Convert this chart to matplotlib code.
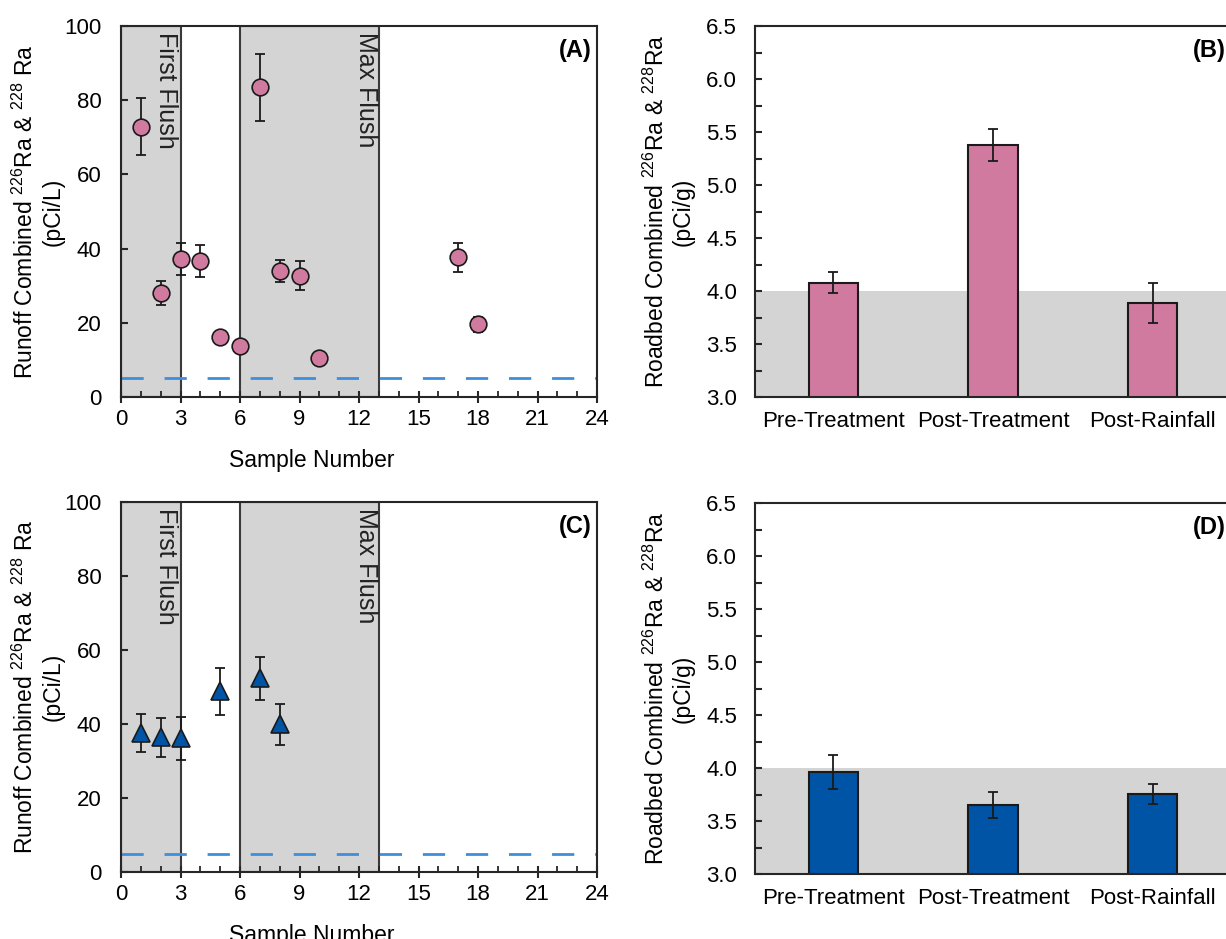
import matplotlib
matplotlib.use('Agg')
import matplotlib.pyplot as plt
from matplotlib.ticker import MultipleLocator
import numpy as np

plt.rcParams['font.family'] = ['Liberation Sans', 'DejaVu Sans']
plt.rcParams['mathtext.fontset'] = 'custom'
plt.rcParams['mathtext.rm'] = 'Liberation Sans'
plt.rcParams['mathtext.it'] = 'Liberation Sans:italic'
plt.rcParams['mathtext.bf'] = 'Liberation Sans:bold'

# runoff samples, first site (circles)
samples_a = [1, 2, 3, 4, 5, 6, 7, 8, 9, 10, 17, 18]
runoff_a = [72.8, 28.0, 37.2, 36.7, 16.3, 13.7, 83.5, 33.9, 32.7, 10.5, 37.7, 19.6]
runoff_a_err = [7.7, 3.2, 4.2, 4.3, 0.8, 0.8, 9.0, 3.0, 3.9, 0.8, 3.9, 2.0]

# runoff samples, second site (triangles)
samples_c = [1, 2, 3, 5, 7, 8]
runoff_c = [37.6, 36.4, 36.1, 48.8, 52.3, 39.9]
runoff_c_err = [5.1, 5.3, 5.8, 6.4, 5.9, 5.5]

# roadbed concentrations
stages = ['Pre-Treatment', 'Post-Treatment', 'Post-Rainfall']
roadbed_b = [4.08, 5.375, 3.89]
roadbed_b_err = [0.10, 0.15, 0.19]
roadbed_d = [3.965, 3.65, 3.755]
roadbed_d_err = [0.16, 0.125, 0.097]

first_flush = (0, 3)
max_flush = (6, 13)
runoff_limit = 5
background_level = 4.0

pink = '#d17aa0'
blue = '#0054a6'
shade = '#d4d4d4'
frame = '#262626'

W, H = 1226, 939
fig = plt.figure(figsize=(W / 100, H / 100), dpi=100)


def px_axes(left, top, right, bottom):
    return fig.add_axes([left / W, 1 - bottom / H, (right - left) / W, (bottom - top) / H])


def style_frame(ax):
    for sp in ax.spines.values():
        sp.set_color(frame)
        sp.set_linewidth(1.5)


def runoff_panel(ax, xs, ys, errs, marker, color, ms, tag):
    for lo, hi in (first_flush, max_flush):
        ax.axvspan(lo, hi, facecolor=shade, edgecolor='#3a3a3a', lw=1.5, zorder=0)
    ax.axhline(runoff_limit, color='#3d8fdc', lw=2, dashes=(8, 7.5), zorder=1)
    ax.errorbar(xs, ys, yerr=errs, fmt='none', ecolor='#1a1a1a', elinewidth=1.3,
                capsize=3.5, capthick=1.3, zorder=3)
    ax.plot(xs, ys, linestyle='none', marker=marker, ms=ms, mfc=color,
            mec='#1a1a1a', mew=1.2, zorder=4)
    ax.set_xlim(0, 24)
    ax.set_ylim(0, 100)
    ax.xaxis.set_major_locator(MultipleLocator(3))
    ax.xaxis.set_minor_locator(MultipleLocator(1))
    ax.yaxis.set_major_locator(MultipleLocator(20))
    ax.tick_params(axis='x', which='major', direction='inout', length=9, width=1.5,
                   color=frame, labelsize=16, pad=4)
    ax.tick_params(axis='x', which='minor', direction='in', length=4, width=1.3, color=frame)
    ax.tick_params(axis='y', which='major', direction='in', length=5, width=1.5,
                   color=frame, labelsize=16, pad=14)
    trans = ax.get_xaxis_transform()
    ax.text(2.27, 0.984, 'First Flush', rotation=270, ha='center', va='top',
            fontsize=18, color='#222222', transform=trans)
    ax.text(12.36, 0.984, 'Max Flush', rotation=270, ha='center', va='top',
            fontsize=18, color='#222222', transform=trans)
    ax.text(0.988, 0.965, tag, ha='right', va='top', fontsize=17, fontweight='bold',
            transform=ax.transAxes)
    ax.set_xlabel('Sample Number', fontsize=16.5)
    ax.xaxis.set_label_coords(0.40, -0.14)
    ax.set_ylabel('Runoff Combined $^{226}$Ra & $^{228}$ Ra\n(pCi/L)', fontsize=16.5,
                  linespacing=1.2)
    ax.yaxis.set_label_coords(-0.118, 0.5)
    style_frame(ax)


def roadbed_panel(ax, vals, errs, color, tag):
    pos = np.arange(len(stages))
    ax.axhspan(3.0, background_level, color=shade, lw=0, zorder=0)
    ax.bar(pos, vals, width=0.31, bottom=0, color=color, edgecolor='#1a1a1a',
           linewidth=1.5, zorder=2)
    ax.errorbar(pos, vals, yerr=errs, fmt='none', ecolor='#1a1a1a', elinewidth=1.3,
                capsize=3.5, capthick=1.3, zorder=3)
    ax.set_xlim(-0.49, 2.49)
    ax.set_ylim(3.0, 6.5)
    ax.set_xticks(pos)
    ax.set_xticklabels(stages)
    ax.yaxis.set_major_locator(MultipleLocator(0.5))
    ax.yaxis.set_minor_locator(MultipleLocator(0.25))
    ax.yaxis.set_major_formatter(plt.FormatStrFormatter('%.1f'))
    ax.tick_params(axis='x', length=0, labelsize=16, pad=10)
    ax.tick_params(axis='y', which='both', direction='in', length=5, width=1.5,
                   color=frame, labelsize=16, pad=13)
    ax.text(0.99, 0.965, tag, ha='right', va='top', fontsize=17, fontweight='bold',
            transform=ax.transAxes)
    ax.set_ylabel('Roadbed Combined $^{226}$Ra & $^{228}$Ra\n(pCi/g)', fontsize=16.5,
                  linespacing=1.2)
    ax.yaxis.set_label_coords(-0.126, 0.5)
    style_frame(ax)


ax_a = px_axes(121, 26, 597, 397)
ax_b = px_axes(755, 26, 1231, 397)
ax_c = px_axes(121, 502, 597, 872)
ax_d = px_axes(755, 503, 1231, 874)

runoff_panel(ax_a, samples_a, runoff_a, runoff_a_err, 'o', pink, 12, '(A)')
runoff_panel(ax_c, samples_c, runoff_c, runoff_c_err, '^', blue, 13.5, '(C)')
roadbed_panel(ax_b, roadbed_b, roadbed_b_err, pink, '(B)')
roadbed_panel(ax_d, roadbed_d, roadbed_d_err, blue, '(D)')

plt.savefig('out.png', dpi=100)
